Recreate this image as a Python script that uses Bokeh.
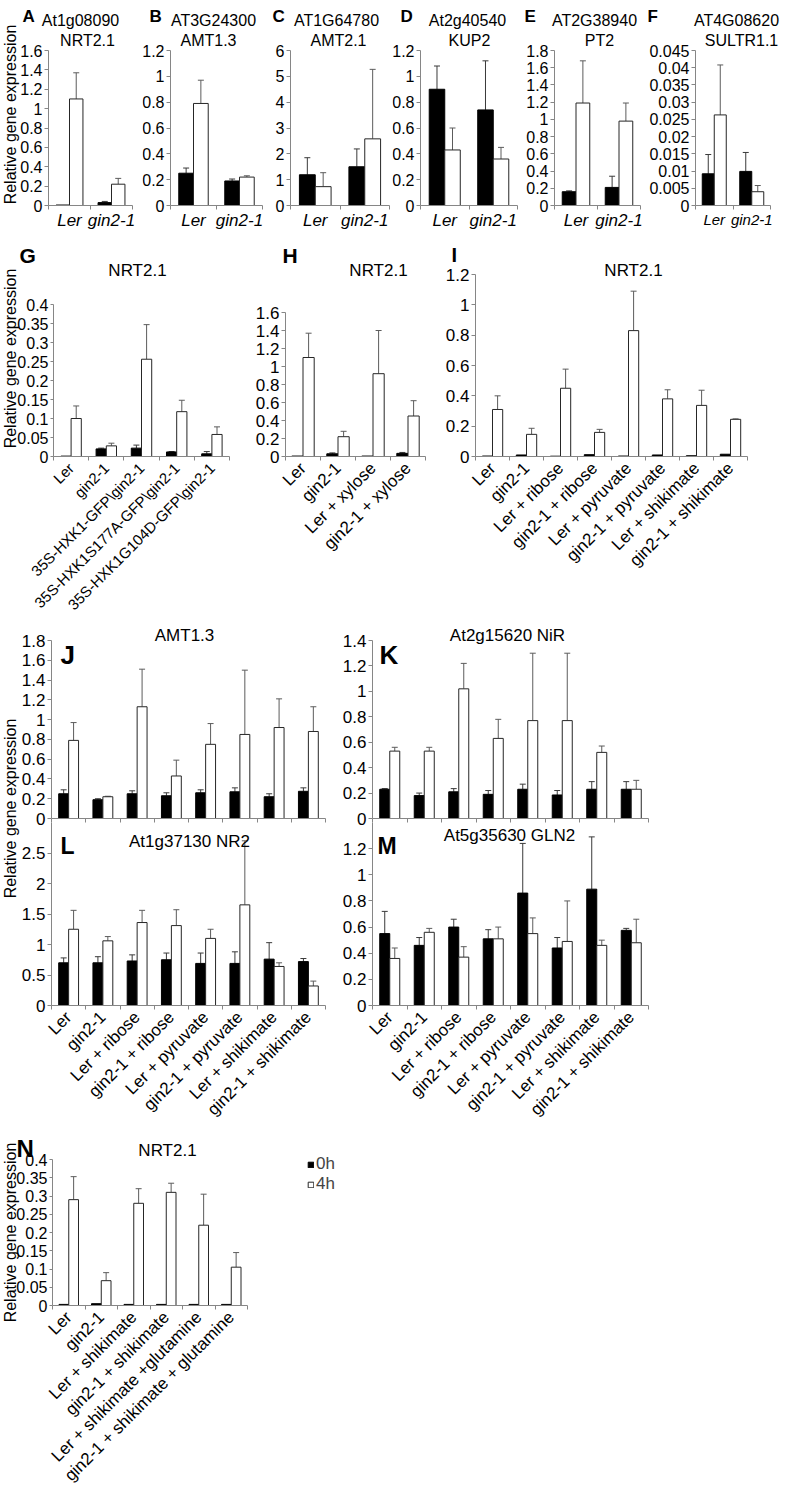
import math
from bokeh.plotting import figure
from bokeh.models import (Range1d, FixedTicker, CustomJSTickFormatter, ColumnDataSource,
                          Whisker, TeeHead, Label, Legend, LegendItem, LinearAxis)
from bokeh.layouts import row, column
from bokeh.embed import file_html
from bokeh.resources import INLINE

# ---------------- categories ----------------
cats_two = ["Ler", "gin2-1"]
cats_G = ["Ler", "gin2-1", "35S-HXK1-GFP\\gin2-1", "35S-HXK1S177A-GFP\\gin2-1",
          "35S-HXK1G104D-GFP\\gin2-1"]
cats_H = ["Ler", "gin2-1", "Ler + xylose", "gin2-1 + xylose"]
cats_8 = ["Ler", "gin2-1", "Ler + ribose", "gin2-1 + ribose", "Ler + pyruvate",
          "gin2-1 + pyruvate", "Ler + shikimate", "gin2-1 + shikimate"]
cats_N = ["Ler", "gin2-1", "Ler + shikimate", "gin2-1 + shikimate",
          "Ler + shikimate +glutamine", "gin2-1 + shikimate + glutamine"]
series_names = ["0h", "4h"]

# ---------------- values (mean, sd) ----------------
A_0h = [0.005, 0.03];   A_0h_sd = [0.0, 0.012]
A_4h = [1.10, 0.22];    A_4h_sd = [0.27, 0.06]
B_0h = [0.25, 0.19];    B_0h_sd = [0.04, 0.015]
B_4h = [0.79, 0.22];    B_4h_sd = [0.18, 0.01]
C_0h = [1.19, 1.50];    C_0h_sd = [0.66, 0.69]
C_4h = [0.73, 2.58];    C_4h_sd = [0.54, 2.69]
D_0h = [0.90, 0.74];    D_0h_sd = [0.18, 0.38]
D_4h = [0.43, 0.36];    D_4h_sd = [0.17, 0.09]
E_0h = [0.16, 0.21];    E_0h_sd = [0.01, 0.13]
E_4h = [1.19, 0.98];    E_4h_sd = [0.49, 0.21]
F_0h = [0.0092, 0.0099]; F_0h_sd = [0.0056, 0.0055]
F_4h = [0.0263, 0.0040]; F_4h_sd = [0.0145, 0.0018]

G_0h = [0.001, 0.020, 0.022, 0.012, 0.007]; G_0h_sd = [0.0, 0.002, 0.008, 0.001, 0.006]
G_4h = [0.100, 0.028, 0.256, 0.118, 0.058]; G_4h_sd = [0.033, 0.007, 0.091, 0.030, 0.020]
H_0h = [0.005, 0.03, 0.005, 0.035];         H_0h_sd = [0.0, 0.01, 0.0, 0.01]
H_4h = [1.10, 0.22, 0.92, 0.45];            H_4h_sd = [0.27, 0.06, 0.48, 0.17]
I_0h = [0.003, 0.010, 0.002, 0.012, 0.003, 0.010, 0.005, 0.015]
I_0h_sd = [0, 0, 0, 0, 0, 0, 0, 0]
I_4h = [0.31, 0.146, 0.45, 0.159, 0.83, 0.38, 0.337, 0.245]
I_4h_sd = [0.09, 0.04, 0.126, 0.02, 0.26, 0.06, 0.10, 0.003]

J_0h = [0.25, 0.19, 0.25, 0.23, 0.26, 0.27, 0.22, 0.275]
J_0h_sd = [0.04, 0.01, 0.03, 0.03, 0.03, 0.04, 0.03, 0.035]
J_4h = [0.79, 0.22, 1.13, 0.43, 0.75, 0.85, 0.92, 0.88]
J_4h_sd = [0.18, 0.005, 0.38, 0.16, 0.21, 0.65, 0.29, 0.25]
K_0h = [0.23, 0.18, 0.21, 0.19, 0.23, 0.185, 0.23, 0.23]
K_0h_sd = [0.005, 0.02, 0.025, 0.03, 0.04, 0.035, 0.06, 0.06]
K_4h = [0.53, 0.53, 1.02, 0.63, 0.77, 0.77, 0.52, 0.23]
K_4h_sd = [0.03, 0.03, 0.20, 0.15, 0.53, 0.53, 0.05, 0.07]
L_0h = [0.70, 0.70, 0.73, 0.75, 0.69, 0.69, 0.76, 0.72]
L_0h_sd = [0.08, 0.10, 0.10, 0.11, 0.17, 0.19, 0.27, 0.05]
L_4h = [1.25, 1.06, 1.36, 1.31, 1.10, 1.65, 0.64, 0.32]
L_4h_sd = [0.31, 0.07, 0.20, 0.26, 0.15, 1.05, 0.06, 0.08]
M_0h = [0.55, 0.46, 0.60, 0.51, 0.86, 0.44, 0.89, 0.575]
M_0h_sd = [0.17, 0.06, 0.06, 0.07, 0.38, 0.08, 0.40, 0.015]
M_4h = [0.36, 0.56, 0.37, 0.51, 0.55, 0.49, 0.46, 0.48]
M_4h_sd = [0.08, 0.03, 0.08, 0.09, 0.12, 0.31, 0.04, 0.18]
N_0h = [0.003, 0.005, 0.003, 0.003, 0.003, 0.003]
N_0h_sd = [0, 0, 0, 0, 0, 0]
N_4h = [0.29, 0.068, 0.28, 0.31, 0.22, 0.105]
N_4h_sd = [0.063, 0.022, 0.04, 0.025, 0.085, 0.04]

# ---------------- styling ----------------
FONT = "Liberation Sans"
AXC = "#868686"
BAR_LINE = "#262626"
ERR0 = "#3a3a3a"
ERR1 = "#5c5c5c"
YLAB = "Relative gene expression"
NOBORDER = dict(min_border=0, min_border_left=0, min_border_right=0,
                min_border_top=0, min_border_bottom=0)


def add_series(p, xs, m, s, bw, fill, errc, yname):
    src = ColumnDataSource(dict(x=xs, top=m))
    r = p.vbar(x="x", top="top", bottom=0, width=bw, source=src, fill_color=fill,
               line_color=BAR_LINE if fill == "white" else "black", line_width=1,
               y_range_name=yname)
    keep = [i for i, sd in enumerate(s) if sd > 0]
    esrc = ColumnDataSource(dict(base=[xs[i] for i in keep],
                                 lower=[m[i] for i in keep],
                                 upper=[m[i] + s[i] for i in keep]))
    w = Whisker(base="base", lower="lower", upper="upper", source=esrc, dimension="height",
                line_color=errc, line_width=1, lower_head=None, y_range_name=yname,
                upper_head=TeeHead(size=6, line_color=errc, line_width=1))
    p.add_layout(w)
    return r


def panel(cats, m0, s0, m1, s1, ymax, ystep, ylast, tile, box, bw=0.29,
          ysize="17px", xsize="17px", xitalic=False, rotate=True, show_x=True,
          xstandoff=5, ystandoff=2, ytick=4, fig=None, yname="default"):
    """tile: canvas (x0, y0, x1, y1) on the page; box: (x of category 0, y of ymax,
    x of last category edge, y of zero) on the page. The frame fills the tile and the
    axes are pinned at zero, so all texts can live inside the frame. A second panel
    can share a figure (same categories) through an extra y range."""
    cx0, cy0, cx1, cy1 = tile
    px0, ptop, px1, pzero = box
    n = len(cats)
    kx = n / (px1 - px0)
    ky = ymax / (pzero - ptop)
    yrange = Range1d(-(cy1 - pzero) * ky, ymax + (ptop - cy0) * ky)
    if fig is None:
        p = figure(width=cx1 - cx0, height=cy1 - cy0, title=None,
                   x_range=Range1d((cx0 - px0) * kx, n + (cx1 - px1) * kx),
                   y_range=yrange, toolbar_location=None, output_backend="svg", **NOBORDER)
        p.outline_line_color = None
        p.background_fill_color = "white"
        p.border_fill_color = "white"
        p.xgrid.visible = False
        p.ygrid.visible = False
        xa = p.xaxis[0]
        ya = p.yaxis[0]
    else:
        p = fig
        p.extra_y_ranges[yname] = yrange
        xa = LinearAxis(y_range_name=yname)
        ya = LinearAxis(y_range_name=yname)
        p.add_layout(xa, "below")
        p.add_layout(ya, "left")

    centers = [i + 0.5 for i in range(n)]
    xa.fixed_location = 0
    xa.bounds = (0, n)
    xa.ticker = FixedTicker(ticks=centers if show_x else [], minor_ticks=list(range(n + 1)))
    xa.major_label_overrides = {c: lab for c, lab in zip(centers, cats)}
    xa.axis_line_color = AXC
    xa.major_tick_line_color = None
    xa.major_tick_out = 0
    xa.major_tick_in = 0
    xa.minor_tick_line_color = AXC
    xa.minor_tick_out = 4
    xa.minor_tick_in = 0
    xa.major_label_standoff = xstandoff
    xa.major_label_text_font = FONT
    xa.major_label_text_font_size = xsize
    xa.major_label_text_color = "black"
    xa.major_label_text_font_style = "italic" if xitalic else "normal"
    if rotate:
        xa.major_label_orientation = math.pi / 4

    ya.fixed_location = 0
    ya.bounds = (0, ymax)
    nt = int(round(ylast / ystep)) + 1
    ya.ticker = FixedTicker(ticks=[round(i * ystep, 4) for i in range(nt)], minor_ticks=[])
    ya.formatter = CustomJSTickFormatter(code="return String(Math.round(tick * 100000) / 100000);")
    ya.axis_line_color = AXC
    ya.major_tick_line_color = AXC
    ya.major_tick_out = ytick
    ya.major_tick_in = 0
    ya.minor_tick_line_color = None
    ya.major_label_standoff = ystandoff
    ya.major_label_text_font = FONT
    ya.major_label_text_font_size = ysize
    ya.major_label_text_color = "black"

    off = bw / 2
    r0 = add_series(p, [c - off for c in centers], m0, s0, bw, "black", ERR0, yname)
    r1 = add_series(p, [c + off for c in centers], m1, s1, bw, "white", ERR1, yname)
    p._frame = tile
    p._series = (r0, r1)
    return p


def strip(tile):
    """A text-only figure; its frame is the whole canvas."""
    cx0, cy0, cx1, cy1 = tile
    s = figure(width=cx1 - cx0, height=cy1 - cy0, title=None,
               x_range=Range1d(0, 1), y_range=Range1d(0, 1),
               x_axis_type=None, y_axis_type=None,
               toolbar_location=None, output_backend="svg", **NOBORDER)
    s.outline_line_color = None
    s.background_fill_color = "white"
    s.border_fill_color = "white"
    s._frame = tile
    return s


def txt(p, text, x, y, size, bold=False, align="center", angle=0, baseline="alphabetic"):
    fx0, fy0, fx1, fy1 = p._frame
    p.add_layout(Label(x=x - fx0, y=fy1 - y, x_units="screen", y_units="screen", text=text,
                       text_font=FONT, text_font_size=f"{size}px",
                       text_font_style="bold" if bold else "normal",
                       text_align=align, text_baseline=baseline,
                       angle=angle, angle_units="deg", text_color="black"))


def ylab(p, x, yc):
    txt(p, YLAB, x, yc, 16, angle=90, baseline="middle")


# ---------------- row 1 : A - F ----------------
top_kw = dict(bw=0.32, ysize="16px", xitalic=True, rotate=False, xstandoff=1)
R1 = (8, 242)
pA = panel(cats_two, A_0h, A_0h_sd, A_4h, A_4h_sd, 1.6, 0.2, 1.6,
           (8, R1[0], 150, R1[1]), (56, 58, 140, 213), xsize="17px", **top_kw)
pB = panel(cats_two, B_0h, B_0h_sd, B_4h, B_4h_sd, 1.2, 0.2, 1.2,
           (150, R1[0], 275, R1[1]), (178, 58, 270, 213), xsize="17px", **top_kw)
pC = panel(cats_two, C_0h, C_0h_sd, C_4h, C_4h_sd, 6, 1, 6,
           (275, R1[0], 400, R1[1]), (298, 58, 397, 213), xsize="17px", **top_kw)
pD = panel(cats_two, D_0h, D_0h_sd, D_4h, D_4h_sd, 1.2, 0.2, 1.2,
           (400, R1[0], 530, R1[1]), (428, 58, 525, 213), xsize="17px", **top_kw)
pE = panel(cats_two, E_0h, E_0h_sd, E_4h, E_4h_sd, 1.8, 0.2, 1.8,
           (530, R1[0], 652, R1[1]), (562, 58, 648, 213), xsize="17px", **top_kw)
pF = panel(cats_two, F_0h, F_0h_sd, F_4h, F_4h_sd, 0.045, 0.005, 0.045,
           (652, R1[0], 788, R1[1]), (703, 58, 778, 213), xsize="15px", **top_kw)

for p, letter, lx, t1, x1, t2, x2 in [
        (pA, "A", 30, "At1g08090", 88, "NRT2.1", 95),
        (pB, "B", 157, "AT3G24300", 221, "AMT1.3", 216),
        (pC, "C", 280, "AT1G64780", 344, "AMT2.1", 346),
        (pD, "D", 408, "At2g40540", 475, "KUP2", 477),
        (pE, "E", 532, "AT2G38940", 602, "PT2", 607),
        (pF, "F", 655, "AT4G08620", 744, "SULTR1.1", 749)]:
    txt(p, letter, lx, 24, 17, bold=True, align="left")
    txt(p, t1, x1, 28, 16)
    txt(p, t2, x2, 48, 16)
ylab(pA, 18, 122)

# ---------------- row 2 : G - I ----------------
R2 = (242, 626)
pG = panel(cats_G, G_0h, G_0h_sd, G_4h, G_4h_sd, 0.4, 0.05, 0.4,
           (8, R2[0], 262, R2[1]), (61, 312, 237, 464), bw=0.29, xsize="15px",
           ysize="16px", ytick=3)
pH = panel(cats_H, H_0h, H_0h_sd, H_4h, H_4h_sd, 1.6, 0.2, 1.6,
           (262, R2[0], 448, R2[1]), (293, 320, 433, 464), bw=0.32)
pI = panel(cats_8, I_0h, I_0h_sd, I_4h, I_4h_sd, 1.2, 0.2, 1.2,
           (448, R2[0], 788, R2[1]), (483, 282, 755, 464), bw=0.3)
txt(pG, "G", 27, 263, 21, bold=True, align="left")
txt(pG, "NRT2.1", 145, 278, 17)
ylab(pG, 17.5, 366)
txt(pH, "H", 290, 263, 21, bold=True, align="left")
txt(pH, "NRT2.1", 386, 278, 17)
txt(pI, "I", 459, 262, 20, bold=True, align="left")
txt(pI, "NRT2.1", 641, 278, 17)

# ---------------- row 3 : J/L and K/M share a figure each ----------------
TJL = (28, 626, 348, 1133)
TKM = (348, 626, 788, 1133)
pJL = panel(cats_8, J_0h, J_0h_sd, J_4h, J_4h_sd, 1.8, 0.2, 1.8,
            TJL, (59, 648, 333, 826), show_x=False)
panel(cats_8, L_0h, L_0h_sd, L_4h, L_4h_sd, 3.0, 0.5, 2.5,
      TJL, (59, 830, 333, 1013), fig=pJL, yname="L")
pKM = panel(cats_8, K_0h, K_0h_sd, K_4h, K_4h_sd, 1.4, 0.2, 1.4,
            TKM, (380, 648, 656, 826), show_x=False)
panel(cats_8, M_0h, M_0h_sd, M_4h, M_4h_sd, 1.4, 0.2, 1.2,
      TKM, (380, 830, 656, 1013), fig=pKM, yname="M")
txt(pJL, "J", 68, 662, 26, bold=True, align="left")
txt(pJL, "AMT1.3", 192, 643, 17)
txt(pKM, "K", 387, 662, 26, bold=True, align="left")
txt(pKM, "At2g15620 NiR", 515, 643, 17)
txt(pJL, "L", 68, 853, 23, bold=True, align="left")
txt(pJL, "At1g37130 NR2", 197, 849, 17)
txt(pKM, "M", 385, 853, 23, bold=True, align="left")
txt(pKM, "At5g35630 GLN2", 517, 843, 17)
lf3 = strip((8, 626, 28, 1133))
ylab(lf3, 18, 816)

# ---------------- row 4 : N ----------------
pN = panel(cats_N, N_0h, N_0h_sd, N_4h, N_4h_sd, 0.4, 0.05, 0.4,
           (8, 1133, 400, 1496), (60, 1167, 255, 1313), bw=0.3,
           ysize="16px", ytick=3)
txt(pN, "N", 24, 1156, 24, bold=True, align="left")
txt(pN, "NRT2.1", 175, 1158, 17)
ylab(pN, 17.5, 1240)
r0, r1 = pN._series
legend = Legend(items=[LegendItem(label=series_names[0], renderers=[r0]),
                       LegendItem(label=series_names[1], renderers=[r1])],
                location=(315 - 8, 1496 - 1164 - 38),
                glyph_width=7, glyph_height=7, label_standoff=2, label_height=17,
                spacing=0, padding=0, margin=0,
                label_text_font=FONT, label_text_font_size="17px",
                border_line_color=None, background_fill_alpha=0)
pN.add_layout(legend)

layout = column(
    row(pA, pB, pC, pD, pE, pF),
    row(pG, pH, pI),
    row(lf3, pJL, pKM),
    pN,
)

open("out.html", "w").write(file_html(layout, INLINE, title="Relative gene expression"))
